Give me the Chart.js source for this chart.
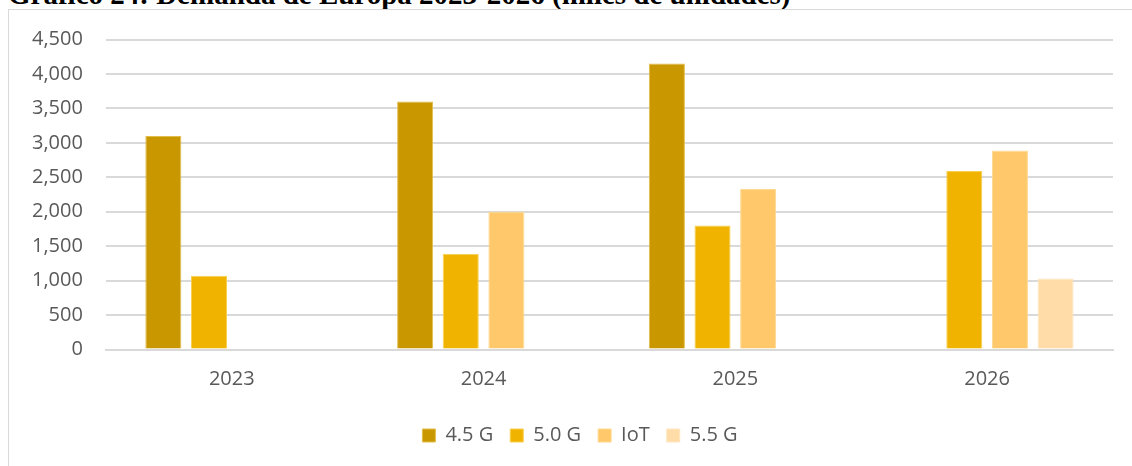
<!DOCTYPE html>
<html>
<head>
<meta charset="utf-8">
<script src="https://cdn.jsdelivr.net/npm/chart.js@4.4.1/dist/chart.umd.min.js"></script>
<style>
  html, body { margin: 0; padding: 0; background: #fff; overflow: hidden; }
  #wrap { position: relative; width: 1132px; height: 466px; }
  #title {
    position: absolute; left: 8px; top: -24px; white-space: nowrap;
    font: bold 29px "Liberation Serif", "Times New Roman", serif; color: #000;
    line-height: 36px;
  }
  #frame {
    position: absolute; left: 8px; top: 9px; width: 1200px; height: 500px;
    border-left: 1px solid #d9d9d9; border-top: 1px solid #d9d9d9;
  }
  canvas { position: absolute; left: 0; top: 0; }
</style>
</head>
<body>
<div id="wrap">
  <div id="title">Gráfico 24: Demanda de Europa 2023-2026 (miles de unidades)</div>
  <div id="frame"></div>
  <canvas id="demanda" width="1132" height="466"></canvas>
</div>
<script>
  // datos (miles de unidades)
  var years = ["2023", "2024", "2025", "2026"];
  var g45 = [3100, 3600, 4150, null];
  var g50 = [1070, 1390, 1800, 2590];
  var iot = [null, 2000, 2330, 2890];
  var g55 = [null, null, null, 1030];

  Chart.defaults.font.family = "'Open Sans', sans-serif";
  Chart.defaults.color = "#595959";

  function barSet(label, data, color, edge) {
    return {
      label: label,
      data: data,
      backgroundColor: color,
      borderColor: edge,
      borderWidth: 1,
      categoryPercentage: 0.725,
      barPercentage: 0.79
    };
  }

  // la leyenda del original esta algo desplazada a la derecha
  var legendShift = {
    id: "legendShift",
    afterLayout: function (chart) {
      chart.legend.left += 19;
      chart.legend.right += 19;
    }
  };

  var ctx = document.getElementById("demanda").getContext("2d");
  var myChart = new Chart(ctx, {
    type: "bar",
    data: {
      labels: years,
      datasets: [
        barSet("4.5 G", g45, "#c99700", "#e3bd4a"),
        barSet("5.0 G", g50, "#f0b400", "#f8cf4f"),
        barSet("IoT", iot, "#ffc96b", "#ffd98f"),
        barSet("5.5 G", g55, "#ffdca8", "#ffe6c0")
      ]
    },
    options: {
      responsive: false,
      animation: false,
      layout: { padding: { top: 39.5, left: 9, right: 19, bottom: 10.5 } },
      plugins: {
        tooltip: { enabled: false },
        legend: {
          position: "bottom",
          labels: {
            boxWidth: 13,
            boxHeight: 13,
            padding: 17,
            font: { size: 20 },
            color: "#595959"
          }
        }
      },
      scales: {
        x: {
          grid: { display: false },
          border: { color: "#d9d9d9", width: 2 },
          ticks: { padding: 9.5, font: { size: 20 } },
          afterFit: function (scale) { scale.height = 59; }
        },
        y: {
          min: 0,
          max: 4500,
          grid: { color: "#d9d9d9", lineWidth: 2, drawTicks: false },
          border: { display: false },
          ticks: {
            stepSize: 500,
            padding: 23,
            font: { size: 20 },
            callback: function (v) { return v.toLocaleString("en-US"); }
          }
        }
      }
    },
    plugins: [legendShift]
  });
</script>
</body>
</html>
